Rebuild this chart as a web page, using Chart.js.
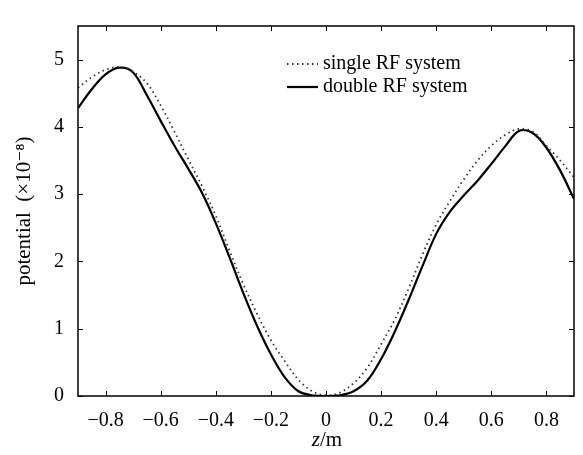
<!DOCTYPE html>
<html>
<head>
<meta charset="utf-8">
<script src="https://cdn.jsdelivr.net/npm/chart.js@4/dist/chart.umd.min.js"></script>
<style>
  html, body { margin: 0; padding: 0; background: #fff; }
  #wrap { width: 583px; height: 455px; }
</style>
</head>
<body>
<div id="wrap"><canvas id="myChart"></canvas></div>
<script>
// z positions (m), step 0.05
const zValues = [-0.9, -0.85, -0.8, -0.75, -0.7, -0.65, -0.6, -0.55, -0.5, -0.45, -0.4,
  -0.35, -0.3, -0.25, -0.2, -0.15, -0.1, -0.05, 0, 0.05, 0.1, 0.15, 0.2, 0.25, 0.3,
  0.35, 0.4, 0.45, 0.5, 0.55, 0.6, 0.65, 0.7, 0.75, 0.8, 0.85, 0.9];

const singleRF = [4.58, 4.74, 4.85, 4.89, 4.82, 4.65, 4.32, 3.93, 3.52, 3.12, 2.68,
  2.16, 1.66, 1.22, 0.83, 0.52, 0.24, 0.07, 0.01, 0.05, 0.19, 0.42, 0.77, 1.14, 1.6,
  2.1, 2.55, 2.9, 3.22, 3.5, 3.72, 3.88, 3.97, 3.93, 3.72, 3.5, 3.25];

const doubleRF = [4.28, 4.56, 4.78, 4.88, 4.81, 4.47, 4.09, 3.72, 3.38, 3.02, 2.57,
  2.06, 1.53, 1.04, 0.62, 0.28, 0.07, 0.01, 0, 0.01, 0.07, 0.23, 0.55, 0.96, 1.43,
  1.93, 2.41, 2.74, 2.98, 3.2, 3.45, 3.71, 3.94, 3.91, 3.69, 3.35, 2.93];

const xTicks = [-0.8, -0.6, -0.4, -0.2, 0, 0.2, 0.4, 0.6, 0.8];
const yTicks = [0, 1, 2, 3, 4, 5];
const seriesLabels = ["single RF system", "double RF system"];

const serif = "'Liberation Serif', 'DejaVu Serif', serif";

const toPoints = (ys) => zValues.map((z, i) => ({ x: z, y: ys[i] }));
const fmt = (v) => String(Math.round(v * 10) / 10).replace("-", "\u2212");

// frame, inward ticks, legend and x title
const framePlugin = {
  id: "frame",
  afterDraw: (chart) => {
    const { ctx, chartArea: a, scales } = chart;
    ctx.save();
    ctx.strokeStyle = "#000";
    ctx.lineWidth = 1.5;
    ctx.strokeRect(a.left, a.top, a.right - a.left, a.bottom - a.top);
    ctx.lineWidth = 1;
    const len = 5;
    xTicks.forEach((v) => {
      const px = Math.round(scales.x.getPixelForValue(v)) + 0.5;
      ctx.beginPath();
      ctx.moveTo(px, a.bottom); ctx.lineTo(px, a.bottom - len);
      ctx.moveTo(px, a.top); ctx.lineTo(px, a.top + len);
      ctx.stroke();
    });
    yTicks.forEach((v) => {
      const py = Math.round(scales.y.getPixelForValue(v)) + 0.5;
      ctx.beginPath();
      ctx.moveTo(a.left, py); ctx.lineTo(a.left + len, py);
      ctx.moveTo(a.right, py); ctx.lineTo(a.right - len, py);
      ctx.stroke();
    });

    // legend
    ctx.font = "20px " + serif;
    ctx.textBaseline = "middle";
    ctx.fillStyle = "#000";
    const lx = 287, lw = 31;
    const rows = [64, 87];
    chart.data.datasets.forEach((ds, i) => {
      ctx.strokeStyle = ds.borderColor;
      ctx.lineWidth = ds.borderWidth;
      ctx.setLineDash(ds.borderDash || []);
      ctx.beginPath();
      ctx.moveTo(lx, rows[i]); ctx.lineTo(lx + lw, rows[i]);
      ctx.stroke();
      ctx.setLineDash([]);
      ctx.fillText(ds.label, lx + lw + 5, rows[i]);
    });

    // x title: italic z, then /m
    const cx = 327, cy = 440;
    ctx.font = "italic 21px " + serif;
    const wz = ctx.measureText("z").width;
    ctx.font = "21px " + serif;
    const wm = ctx.measureText("/m").width;
    const x0 = cx - (wz + wm) / 2;
    ctx.textAlign = "left";
    ctx.font = "italic 21px " + serif;
    ctx.fillText("z", x0, cy);
    ctx.font = "21px " + serif;
    ctx.fillText("/m", x0 + wz, cy);
    ctx.restore();
  },
};

new Chart(document.getElementById("myChart"), {
  type: "scatter",
  data: {
    datasets: [
      {
        label: seriesLabels[0],
        data: toPoints(singleRF),
        showLine: true,
        borderColor: "#333",
        borderWidth: 1.8,
        borderDash: [1.5, 3.5],
        pointRadius: 0,
        tension: 0.35,
      },
      {
        label: seriesLabels[1],
        data: toPoints(doubleRF),
        showLine: true,
        borderColor: "#000",
        borderWidth: 2.2,
        pointRadius: 0,
        tension: 0.35,
      },
    ],
  },
  options: {
    responsive: true,
    maintainAspectRatio: false,
    animation: false,
    layout: { padding: { top: 4, right: 9, left: 0, bottom: 0 } },
    plugins: {
      legend: { display: false },
      tooltip: { enabled: false },
    },
    scales: {
      x: {
        type: "linear",
        min: -0.9,
        max: 0.9,
        grid: { display: false, drawTicks: false },
        border: { display: false },
        afterBuildTicks: (scale) => { scale.ticks = xTicks.map((v) => ({ value: v })); },
        afterFit: (scale) => { scale.height = 59; },
        ticks: {
          color: "#000",
          padding: 13,
          maxRotation: 0,
          font: { family: serif, size: 20 },
          callback: (v) => fmt(v),
        },
      },
      y: {
        min: 0,
        max: 5.5,
        grid: { display: false, drawTicks: false },
        border: { display: false },
        afterBuildTicks: (scale) => { scale.ticks = yTicks.map((v) => ({ value: v })); },
        afterFit: (scale) => { scale.width = 78; },
        ticks: {
          color: "#000",
          padding: 14,
          font: { family: serif, size: 20 },
          callback: (v) => fmt(v),
        },
        title: {
          display: true,
          text: "potential  (\u00d710\u207b\u2078)",
          color: "#000",
          font: { family: serif, size: 21 },
          padding: { top: 12, bottom: 0 },
        },
      },
    },
  },
  plugins: [framePlugin],
});
</script>
</body>
</html>
